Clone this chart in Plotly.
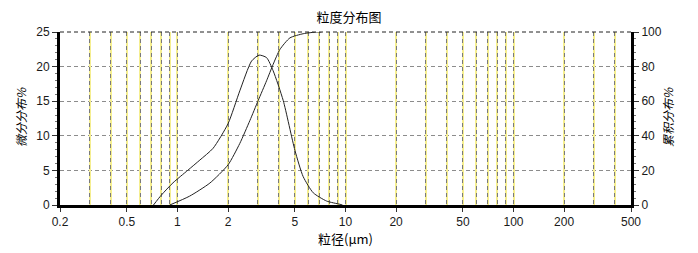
import plotly.graph_objects as go

# particle size (µm) and differential distribution (%)
diff_x = [0.72, 0.80, 0.94, 1.15, 1.36, 1.63, 2.0, 2.35, 2.76, 3.06, 3.39, 3.71, 4.26, 5.0, 5.6, 6.43, 7.72, 9.27, 9.6]
diff_y = [0.0, 1.4, 3.2, 5.0, 6.5, 8.2, 11.75, 16.5, 20.8, 21.66, 21.3, 19.4, 15.1, 7.9, 4.1, 1.76, 0.57, 0.1, 0.0]

# particle size (µm) and cumulative distribution (%)
cum_x = [0.9, 1.18, 1.56, 2.0, 2.35, 2.70, 3.02, 3.39, 3.71, 4.07, 4.67, 5.6, 6.73, 7.2]
cum_y = [0.0, 5.1, 12.7, 23.2, 35.6, 48.9, 60.3, 71.8, 81.3, 89.9, 96.6, 99.0, 100.0, 100.0]

x_ticks = [0.2, 0.5, 1, 2, 5, 10, 20, 50, 100, 200, 500]
x_ticktext = ["0.2", "0.5", "1", "2", "5", "10", "20", "50", "100", "200", "500"]
x_grid = [0.3, 0.4, 0.5, 0.6, 0.7, 0.8, 0.9, 1, 2, 3, 4, 5, 6, 7, 8, 9, 10,
          20, 30, 40, 50, 60, 70, 80, 90, 100, 200, 300, 400]

title = "粒度分布图"
x_title = "粒径(μm)"
y1_title = "微分分布%"
y2_title = "累积分布%"

CJK = "Noto Sans CJK SC"
TICKFONT = dict(family="Arial, Liberation Sans, sans-serif", size=12, color="#1a1a1a")

fig = go.Figure()
# helper trace only to register the overlay grid axis (invisible)
fig.add_trace(go.Scatter(x=[1], y=[0], mode="markers", xaxis="x3", yaxis="y",
                         marker=dict(opacity=0), hoverinfo="skip", showlegend=False))
fig.add_trace(go.Scatter(x=diff_x, y=diff_y, mode="lines", xaxis="x", yaxis="y",
                         line=dict(color="#222222", width=1, shape="spline", smoothing=0.6),
                         hoverinfo="skip", showlegend=False))
fig.add_trace(go.Scatter(x=cum_x, y=cum_y, mode="lines", xaxis="x2", yaxis="y2",
                         line=dict(color="#222222", width=1, shape="spline", smoothing=0.6),
                         hoverinfo="skip", showlegend=False))

xr = [-0.69897, 2.69897]
grid_axis = dict(type="log", range=xr, overlaying="x", matches="x", tickmode="array",
                 tickvals=x_grid, showticklabels=False, ticks="", showline=False, zeroline=False)
fig.update_layout(
    width=698, height=253,
    margin=dict(l=60, r=67, t=32, b=46),
    paper_bgcolor="white", plot_bgcolor="white",
    title=dict(text=title, x=0.5, xanchor="center", y=0.93, yanchor="middle",
               font=dict(family=CJK, size=13, color="#000000")),
    xaxis=dict(type="log", range=xr, tickmode="array", tickvals=x_ticks, ticktext=x_ticktext,
               ticks="outside", ticklen=4, tickwidth=1, tickcolor="#333333",
               showline=True, linecolor="black", linewidth=3,
               showgrid=False, zeroline=False, tickfont=TICKFONT,
               title=dict(text=x_title, font=dict(family=CJK, size=13, color="#000000"), standoff=2)),
    xaxis2=dict(grid_axis, showgrid=True, gridcolor="#f5ee90", gridwidth=1.6),
    xaxis3=dict(grid_axis, showgrid=True, gridcolor="#7a7a7a", gridwidth=1, griddash="4px,3px"),
    yaxis=dict(range=[0, 25], tickmode="linear", tick0=0, dtick=5,
               ticks="outside", ticklen=5, tickcolor="#333333",
               showline=True, linecolor="black", linewidth=3,
               showgrid=True, gridcolor="#8c8c8c", gridwidth=1, griddash="4px,3px",
               minor=dict(dtick=1, ticks="outside", ticklen=2, tickcolor="#777777", showgrid=False),
               zeroline=False, tickfont=TICKFONT),
    yaxis2=dict(range=[0, 100], overlaying="y", side="right", tickmode="linear", tick0=0, dtick=20,
                ticks="outside", ticklen=5, tickcolor="#333333",
                showline=True, linecolor="black", linewidth=3,
                showgrid=False,
                minor=dict(dtick=4, ticks="outside", ticklen=2, tickcolor="#777777", showgrid=False),
                zeroline=False, tickfont=TICKFONT),
    shapes=[dict(type="line", xref="paper", yref="paper", x0=0, x1=1, y0=1, y1=1,
                 line=dict(color="#222222", width=1, dash="4px,3px"), layer="above")],
    annotations=[
        dict(text="<i>" + y1_title + "</i>", xref="paper", yref="paper", x=-0.068, y=0.51,
             xanchor="center", yanchor="middle", textangle=-90, showarrow=False,
             font=dict(family=CJK, size=12, color="#000000")),
        dict(text="<i>" + y2_title + "</i>", xref="paper", yref="paper", x=1.065, y=0.51,
             xanchor="center", yanchor="middle", textangle=-90, showarrow=False,
             font=dict(family=CJK, size=12, color="#000000")),
    ],
)

fig.write_html("out.html")
